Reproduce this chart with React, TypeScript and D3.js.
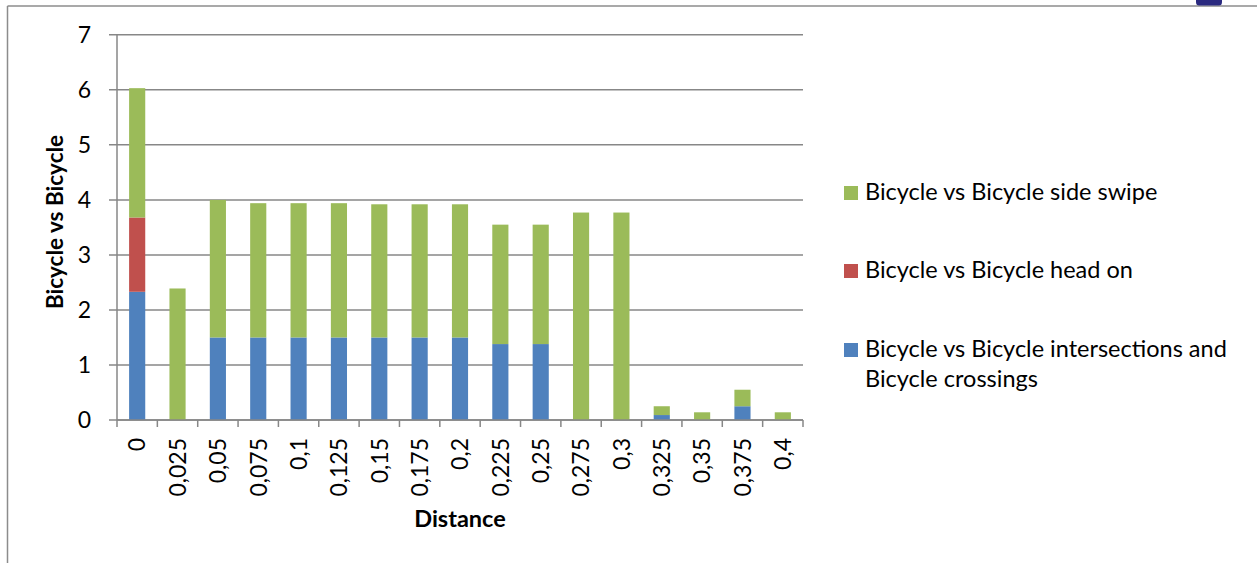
import React from "react";
import * as d3 from "d3";

const categories = ["0", "0,025", "0,05", "0,075", "0,1", "0,125", "0,15", "0,175", "0,2", "0,225", "0,25", "0,275", "0,3", "0,325", "0,35", "0,375", "0,4"];
const intersections = [2.33, 0, 1.5, 1.5, 1.5, 1.5, 1.5, 1.5, 1.5, 1.38, 1.38, 0, 0, 0.09, 0, 0.25, 0];
const headOn = [1.35, 0, 0, 0, 0, 0, 0, 0, 0, 0, 0, 0, 0, 0, 0, 0, 0];
const sideSwipe = [2.35, 2.39, 2.5, 2.44, 2.44, 2.44, 2.42, 2.42, 2.42, 2.17, 2.17, 3.77, 3.77, 0.16, 0.14, 0.3, 0.14];
const yTicks = [0, 1, 2, 3, 4, 5, 6, 7];

const seriesKeys = ["intersections", "headOn", "sideSwipe"];
const colors: Record<string, string> = {
  intersections: "#4F81BD",
  headOn: "#C0504D",
  sideSwipe: "#9BBB59",
};
const legendItems = [
  { key: "sideSwipe", lines: ["Bicycle vs Bicycle side swipe"] },
  { key: "headOn", lines: ["Bicycle vs Bicycle head on"] },
  { key: "intersections", lines: ["Bicycle vs Bicycle intersections and", "Bicycle crossings"] },
];

const FONT = "Lato, 'Open Sans', sans-serif";
const GRID = "#878787";

export default function App() {
  const W = 1257, H = 563;
  const x0 = 117, x1 = 803, yBase = 420, yTop = 34.8;
  const x = d3.scaleBand<string>().domain(categories).range([x0, x1]).paddingInner(0.6).paddingOuter(0.3);
  const y = d3.scaleLinear().domain([0, 7]).range([yBase, yTop]);

  const rows = categories.map((c, i) => ({
    cat: c,
    intersections: intersections[i],
    headOn: headOn[i],
    sideSwipe: sideSwipe[i],
  }));
  const stacked = d3.stack<any>().keys(seriesKeys)(rows);
  const step = x.step();
  const boundaries = d3.range(categories.length + 1).map((i) => x0 + i * step);

  const legendBaselines = [200, 278, 357];

  return (
    <svg width={W} height={H} style={{ position: "absolute", left: 0, top: 0, background: "#fff" }} fontFamily={FONT}>
      <rect x={0} y={0} width={W} height={H} fill="#fff" />
      {/* frame */}
      <line x1={7.5} y1={6} x2={W} y2={6} stroke="#8c8c8c" strokeWidth={1.5} />
      <line x1={7.5} y1={6} x2={7.5} y2={H} stroke="#8c8c8c" strokeWidth={1.5} />
      <path d="M1196,0 L1222,0 L1222,2 Q1222,5.5 1219,5.5 L1199,5.5 Q1196,5.5 1196,2 Z" fill="#2b2a80" />
      {/* gridlines */}
      {yTicks.map((t) => (
        <line key={t} x1={109} x2={x1} y1={y(t)} y2={y(t)} stroke={GRID} strokeWidth={1.5} />
      ))}
      {/* bars */}
      {stacked.map((s) => (
        <g key={s.key} fill={colors[s.key]}>
          {s.map((d, i) =>
            d[1] - d[0] > 0 ? (
              <rect key={i} x={x(categories[i])} width={x.bandwidth()} y={y(d[1])} height={y(d[0]) - y(d[1])} />
            ) : null
          )}
        </g>
      ))}
      {/* axes */}
      <line x1={x0} x2={x0} y1={yTop} y2={yBase} stroke={GRID} strokeWidth={1.5} />
      <line x1={x0} x2={x1} y1={yBase} y2={yBase} stroke={GRID} strokeWidth={1.5} />
      {boundaries.map((b, i) => (
        <line key={i} x1={b} x2={b} y1={yBase} y2={427} stroke={GRID} strokeWidth={1.5} />
      ))}
      {/* y tick labels */}
      {yTicks.map((t) => (
        <text key={t} x={91} y={y(t) + 8.3} textAnchor="end" fontSize={23} fill="#000">
          {t}
        </text>
      ))}
      {/* x tick labels */}
      {categories.map((c) => (
        <text
          key={c}
          transform={`translate(${(x(c) as number) + x.bandwidth() / 2},438) rotate(-90)`}
          textAnchor="end"
          dy="0.36em"
          fontSize={23}
          fill="#000"
        >
          {c}
        </text>
      ))}
      {/* axis titles */}
      <text x={460} y={527} textAnchor="middle" fontSize={23.5} fontWeight="bold" fill="#000">
        Distance
      </text>
      <text transform="translate(63,222) rotate(-90)" textAnchor="middle" fontSize={22.5} fontWeight="bold" fill="#000">
        Bicycle vs Bicycle
      </text>
      {/* legend */}
      {legendItems.map((it, i) => (
        <g key={it.key}>
          <rect x={844} y={legendBaselines[i] - 14} width={14} height={14} fill={colors[it.key]} />
          {it.lines.map((ln, j) => (
            <text key={j} x={865} y={legendBaselines[i] + j * 29.5} fontSize={23.5} fill="#000">
              {ln}
            </text>
          ))}
        </g>
      ))}
    </svg>
  );
}
